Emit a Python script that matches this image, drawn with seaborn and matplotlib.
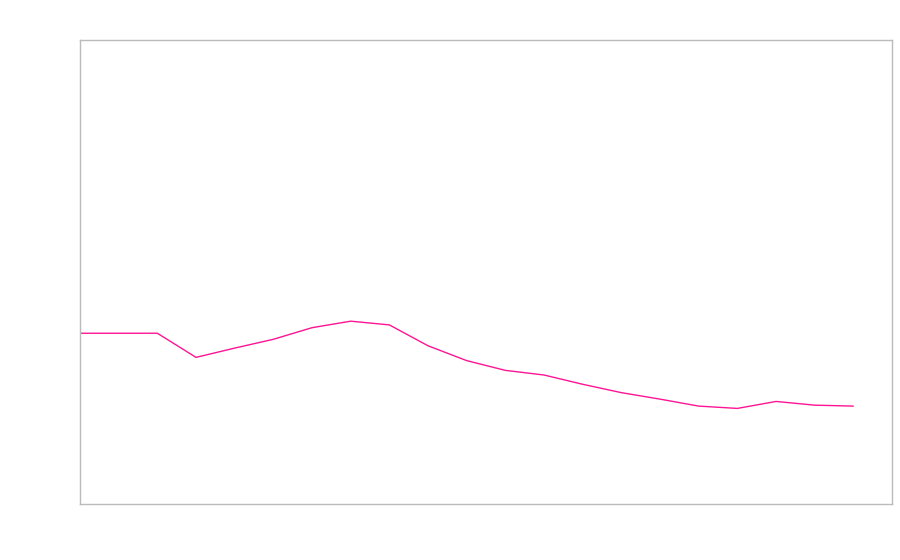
import matplotlib
matplotlib.use("Agg")
import matplotlib.pyplot as plt
import numpy as np
import pandas as pd
import seaborn as sns

# values (no labels shown there)
periods = list(range(21))
values = [36.8, 36.8, 36.8, 31.6, 33.6, 35.5, 38.0, 39.4, 38.6, 34.1,
          30.9, 28.8, 27.8, 25.8, 24.0, 22.6, 21.1, 20.6, 22.1, 21.3, 21.1]

df = pd.DataFrame({"period": periods, "value": values})

sns.set_style("white")
fig = plt.figure(figsize=(9, 5.6), dpi=100)
ax = fig.add_axes([80 / 900, 56 / 560, 812 / 900, 464 / 560])

sns.lineplot(data=df, x="period", y="value", ax=ax, color="#ff1493", linewidth=1)

ax.set_xlim(0, 21)
ax.set_ylim(0, 100)
ax.set_xticks([])
ax.set_yticks([])
ax.set_xlabel("")
ax.set_ylabel("")
for s in ax.spines.values():
    s.set_color("#bbbbbb")
    s.set_linewidth(1)

fig.savefig("out.png", dpi=100)
